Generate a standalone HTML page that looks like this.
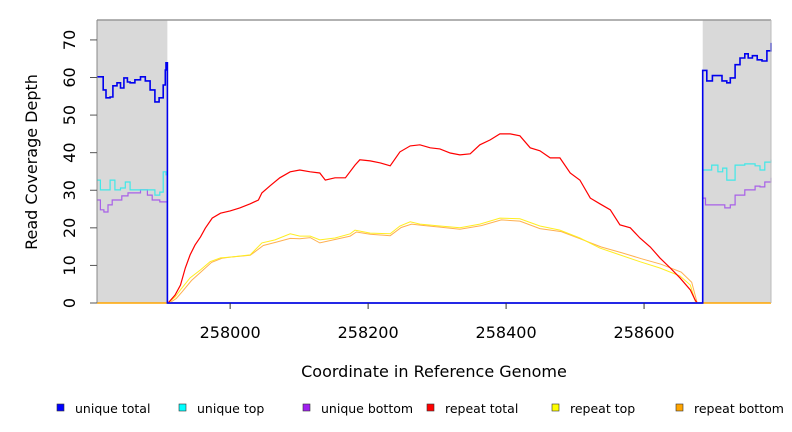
<!DOCTYPE html>
<html><head><meta charset="utf-8"><style>
html,body{margin:0;padding:0;background:#fff;}
svg{display:block;font-family:"DejaVu Sans","Liberation Sans",sans-serif;}
</style></head><body>
<svg id="chart" width="792" height="432" viewBox="0 0 792 432">
<g id="plot"></g>
<g id="axes"></g>
<g id="legend"></g>
</svg>
<script>
const yTicks=[0,10,20,30,40,50,60,70];
const xTicks=[258000,258200,258400,258600];
const greyRegions=[[257807,257909],[258685,258784]];
const redX=[257910,257920,257928,257935,257942,257949,257957,257964,257974,257986,258000,258014,258029,258041,258046,258058,258072,258087,258101,258116,258130,258138,258152,258167,258181,258188,258203,258217,258232,258246,258261,258275,258290,258304,258319,258333,258348,258362,258377,258391,258406,258420,258435,258449,258464,258478,258493,258507,258522,258536,258551,258565,258580,258594,258609,258623,258638,258652,258667,258674,258677];
const redY=[0,2.1,4.8,9.3,12.8,15.4,17.6,19.9,22.6,23.9,24.5,25.3,26.4,27.4,29.3,31.2,33.3,34.9,35.4,34.9,34.6,32.7,33.3,33.3,36.7,38.1,37.8,37.3,36.5,40.2,41.8,42.1,41.3,41.0,39.9,39.4,39.7,42.1,43.4,45.0,45.0,44.5,41.3,40.5,38.6,38.6,34.6,32.7,27.9,26.4,24.8,20.8,20.0,17.3,14.9,12.0,9.3,6.7,3.5,0.8,0];
const yelX=[257910,257920,257928,257942,257957,257971,257986,258000,258029,258046,258065,258087,258101,258116,258130,258152,258174,258181,258203,258232,258246,258261,258275,258304,258333,258362,258391,258420,258449,258478,258507,258536,258565,258594,258623,258652,258667,258675];
const yelY=[0,1.6,3.5,6.7,8.8,11.0,12.0,12.2,12.8,16.0,16.8,18.4,17.8,17.8,16.8,17.3,18.4,19.4,18.6,18.4,20.5,21.6,21.0,20.5,20.0,21.0,22.6,22.4,20.5,19.4,17.3,14.6,12.8,11.0,9.3,7.2,4.8,0];
const orgX=[257912,257922,257930,257944,257959,257973,257988,258000,258029,258048,258067,258087,258101,258116,258130,258152,258174,258183,258203,258232,258248,258263,258277,258304,258333,258364,258393,258420,258449,258480,258507,258538,258567,258596,258625,258654,258669,258677];
const orgY=[0,1.2,2.9,6.0,8.5,10.8,11.9,12.2,12.7,15.3,16.2,17.2,17.1,17.4,16.0,16.9,17.8,18.9,18.3,17.9,20.1,21.0,20.7,20.2,19.6,20.6,22.1,21.8,19.8,19.0,17.1,14.9,13.4,11.8,10.3,8.2,5.5,0];
const utX=[257807,257812,257816,257820,257826,257830,257836,257841,257846,257851,257855,257862,257870,257877,257884,257891,257897,257903,257906,257907,257909,258685,258691,258699,258707,258713,258720,258725,258732,258739,258746,258751,258757,258764,258771,258778,258784];
const utY=[60.2,60.2,56.7,54.6,54.8,57.8,58.6,57.2,59.9,58.8,58.6,59.4,60.2,59.1,56.7,53.5,54.6,58.0,62.0,63.9,0,61.9,59.1,60.5,60.5,59.1,58.6,59.9,63.4,65.2,66.3,65.2,65.8,64.7,64.4,67.1,69.2];
const ucX=[257807,257812,257819,257826,257833,257841,257848,257855,257862,257870,257880,257884,257891,257898,257903,257907,257909,258685,258692,258698,258707,258714,258720,258727,258732,258746,258761,258768,258775,258784];
const ucY=[32.7,30.1,30.1,32.7,30.1,30.6,32.2,30.1,30.1,30.1,30.1,30.1,28.7,29.5,34.9,34.1,0,35.4,35.4,36.7,34.9,35.9,32.7,32.7,36.7,37.0,36.5,35.4,37.5,38.1];
const ubX=[257807,257812,257817,257823,257829,257836,257843,257852,257862,257870,257880,257887,257898,257907,257909,258685,258689,258710,258717,258725,258732,258746,258753,258761,258768,258775,258784];
const ubY=[27.4,24.8,24.2,26.1,27.4,27.4,28.5,29.3,29.3,30.1,28.7,27.4,26.9,26.9,0,27.9,26.1,26.1,25.3,26.1,28.7,30.1,30.1,31.1,30.9,32.2,33.3];
const legendLabels=["unique total","unique top","unique bottom","repeat total","repeat top","repeat bottom"];
const legendColors=["#0000ff","#00ffff","#a020f0","#ff0000","#ffff00","#ffa500"];

const X0=257807,X1=258784,PX0=97,PX1=771,PY0=303,PY1=20,YMAX=75.3;
const sx=v=>PX0+(v-X0)/(X1-X0)*(PX1-PX0);
const sy=v=>PY0-v/YMAX*(PY0-PY1);
const NS="http://www.w3.org/2000/svg";
function mk(tag,attrs,parent){const e=document.createElementNS(NS,tag);for(const k in attrs)e.setAttribute(k,attrs[k]);parent.appendChild(e);return e;}
const plotG=document.getElementById('plot'),axesG=document.getElementById('axes'),legendG=document.getElementById('legend');

greyRegions.forEach((r,i)=>{
  const e=mk('rect',{x:sx(r[0]),y:PY1,width:sx(r[1])-sx(r[0]),height:PY0-PY1,fill:'#d9d9d9'},plotG);
  
  
});
function step(xs,ys){let d='';for(let i=0;i<xs.length;i++){const x=sx(xs[i]).toFixed(1),y=sy(ys[i]).toFixed(1);if(i===0)d+='M'+x+','+y;else{d+='H'+x+'V'+y;}}return d;}
function lin(xs,ys){return xs.map((x,i)=>(i?'L':'M')+sx(x).toFixed(1)+','+sy(ys[i]).toFixed(1)).join('');}
function series(xs,ys,color,name,w,smooth){
  const e=mk('path',{d:smooth?lin(xs,ys):step(xs,ys),fill:'none',stroke:color,'stroke-width':w},plotG);
  
  
}
const bo=mk('line',{x1:PX0,x2:PX1,y1:sy(0),y2:sy(0),stroke:'#ffa500','stroke-width':1.5},plotG);


const bb=mk('line',{x1:sx(257909),x2:sx(258685),y1:sy(0),y2:sy(0),stroke:'#5555ff','stroke-width':1.5},plotG);


series(orgX,orgY,'#ffb050','series-repeat-bottom',1,true);
series(yelX,yelY,'#ffee20','series-repeat-top',1,true);
series(redX,redY,'#ff0000','series-repeat-total',1.2,true);
series(ubX,ubY,'#a860e8','series-unique-bottom',1.2,false);
series(ucX,ucY,'#40e8e8','series-unique-top',1.2,false);
series(utX,utY,'#0000ee','series-unique-total',1.6,false);

const topBorder=mk('line',{x1:PX0,x2:PX1,y1:PY1,y2:PY1,stroke:'#999','stroke-width':1.5},axesG);


const rb=mk('line',{x1:PX1,x2:PX1,y1:PY1,y2:PY0,stroke:'#bbb','stroke-width':1},axesG);


const ya=mk('line',{x1:PX0,x2:PX0,y1:PY1,y2:PY0,stroke:'#888','stroke-width':1},axesG);


yTicks.forEach(v=>{
  const y=sy(v);
  const t=mk('line',{x1:PX0-7,x2:PX0,y1:y,y2:y,stroke:'#555','stroke-width':1},axesG);
  
  
  const l=mk('text',{x:0,y:0,transform:`translate(75,${y}) rotate(-90)`,'text-anchor':'middle','font-size':16,fill:'#000'},axesG);
  l.textContent=v;
  
  
});
xTicks.forEach(v=>{
  const x=sx(v);
  const t=mk('line',{x1:x,x2:x,y1:PY0,y2:PY0+6,stroke:'#333','stroke-width':1},axesG);
  
  
  const l=mk('text',{x:x,y:338,'text-anchor':'middle','font-size':16,fill:'#000'},axesG);
  l.textContent=v;
  
  
});
const xt=mk('text',{x:434,y:377,'text-anchor':'middle','font-size':16,fill:'#000'},axesG);
xt.textContent='Coordinate in Reference Genome';


const yt=mk('text',{x:0,y:0,transform:'translate(37,162) rotate(-90)','text-anchor':'middle','font-size':16,fill:'#000'},axesG);
yt.textContent='Read Coverage Depth';



const lx=[57,179,303,427,552,676];
legendLabels.forEach((lab,i)=>{
  const g=mk('g',{},legendG);
  
  
  mk('rect',{x:lx[i],y:404,width:7,height:7,fill:legendColors[i],stroke:'#333','stroke-width':0.6},g);
  const t=mk('text',{x:lx[i]+18,y:413,'font-size':12.5,fill:'#000'},g);
  t.textContent=lab;
});
</script>
</body></html>
